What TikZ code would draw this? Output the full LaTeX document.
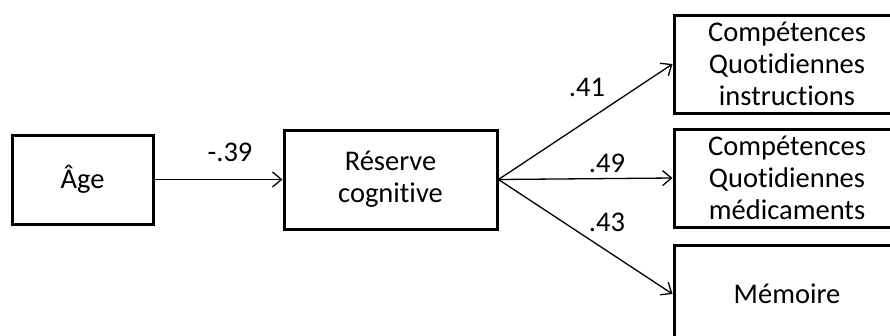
\documentclass[tikz,border=0pt]{standalone}
\usepackage{fontspec}
\setmainfont{Carlito}[Ligatures=CommonOff]
\usepackage{tikz}
\usetikzlibrary{arrows.meta}
\usetikzlibrary{positioning}

\begin{document}
\begin{tikzpicture}[
			x=1pt, y=-1pt,
			every node/.style={font=\fontsize{28.5}{32}\selectfont},
			varbox/.style={draw, line width=3pt, align=center, inner sep=1pt},
			coef/.style={inner sep=0pt},
			path/.style={line width=1.3pt, -{Straight Barb[length=9pt, width=15pt, line width=1.3pt]}}
		]

		\useasboundingbox (0,0) rectangle (890,335);

		% --- Predictor and mediator ---
		\node[varbox, minimum width=141pt, minimum height=89pt] (age) at (82.5,179.5) {Âge};
		\node[varbox, minimum width=213pt, minimum height=99pt] (reserve) at (390.5,179.5) {Réserve\\cognitive};

		% --- Outcomes on the right ---
		\node[varbox, minimum width=226pt, minimum height=98pt] (instr) at (787,64) {Compétences\\Quotidiennes\\instructions};
		\node[varbox, minimum width=226pt, minimum height=98pt] (medic) at (787,178) {Compétences\\Quotidiennes\\médicaments};
		\node[varbox, minimum width=226pt, minimum height=98pt] (memoire) at (787,294) {Mémoire};

		% --- Paths ---
		\draw[path] (age.east) -- (reserve.west);
		\draw[path] (reserve.east) -- (instr.west);
		\draw[path] (reserve.east) -- (medic.west);
		\draw[path] (reserve.east) -- (memoire.west);

		% --- Coefficients ---
		\node[coef] (c1) at (230,152) {-.39};
		\node[coef] (c2) at (587,87) {.41};
		\node[coef] (c3) at (607,163) {.49};
		\node[coef] (c4) at (607,222) {.43};

	\end{tikzpicture}
\end{document}
